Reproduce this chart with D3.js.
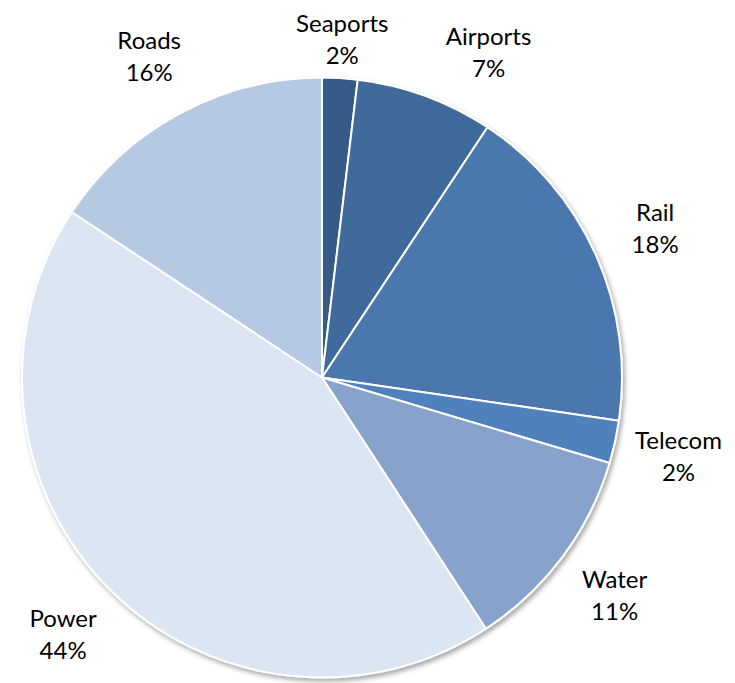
<!DOCTYPE html>
<html>
<head>
<meta charset="utf-8">
<script src="https://cdn.jsdelivr.net/npm/d3@7"></script>
<style>
  body { margin: 0; background: #fff; }
  text { font-family: Lato, "Open Sans", sans-serif; fill: #000; }
</style>
</head>
<body>
<div id="pie-chart"></div>
<script>
// slice data, clockwise from 12 o'clock
var categories = ["Seaports", "Airports", "Rail", "Telecom", "Water", "Power", "Roads"];
var values = [1.9, 7.4, 18.0, 2.3, 11.2, 43.5, 15.7];
var pctLabels = ["2%", "7%", "18%", "2%", "11%", "44%", "16%"];
var colors = ["#345a87", "#3f6a9b", "#4a77ae", "#4f81bd", "#87a2cb", "#dce6f2", "#b5c9e2"];

var width = 735, height = 683;
var cx = 322, cy = 377.5, radius = 300;

var svg = d3.select("#pie-chart")
  .append("svg")
  .attr("width", width)
  .attr("height", height);

// soft shadow like the office chart
var defs = svg.append("defs");
var f = defs.append("filter").attr("id", "shadow")
  .attr("x", "-10%").attr("y", "-10%").attr("width", "120%").attr("height", "120%");
f.append("feGaussianBlur").attr("in", "SourceAlpha").attr("stdDeviation", 2.5);
f.append("feOffset").attr("dx", 2).attr("dy", 3).attr("result", "off");
f.append("feComponentTransfer").append("feFuncA").attr("type", "linear").attr("slope", 0.35);
var m = f.append("feMerge");
m.append("feMergeNode");
m.append("feMergeNode").attr("in", "SourceGraphic");

var g = svg.append("g")
  .attr("transform", "translate(" + cx + "," + cy + ")");

var data = categories.map(function (c, i) {
  return { name: c, value: values[i], pct: pctLabels[i], color: colors[i] };
});

var pie = d3.pie().sort(null).value(function (d) { return d.value; });
var arcs = pie(data);

var arc = d3.arc().innerRadius(0).outerRadius(radius);

var slices = g.append("g").attr("filter", "url(#shadow)");
slices.selectAll("path")
  .data(arcs)
  .enter().append("path")
  .attr("d", arc)
  .attr("fill", function (d) { return d.data.color; })
  .attr("stroke", "#fff")
  .attr("stroke-width", 2)
  .attr("stroke-linejoin", "round");

// labels outside the pie
var labelR = 365;
var minY = -cy + 39;

var labels = g.selectAll(".label")
  .data(arcs)
  .enter().append("g")
  .attr("class", "label");

labels.append("text")
  .attr("text-anchor", "middle")
  .attr("y", -7.5)
  .attr("font-size", 24)
  .text(function (d) { return d.data.name; });

labels.append("text")
  .attr("text-anchor", "middle")
  .attr("y", 24.5)
  .attr("font-size", 24)
  .text(function (d) { return d.data.pct; });

function labelPos(a) {
  var r = labelR;
  // keep top labels inside the page
  if (-r * Math.cos(a) < minY) r = -minY / Math.cos(a);
  return [r * Math.sin(a), -r * Math.cos(a)];
}

// place labels, nudging clockwise when too close to the previous one
var placed = [];
labels.each(function (d, i) {
  var w = d3.max(d3.select(this).selectAll("text").nodes(), function (n) { return n.getComputedTextLength(); });
  var a = (d.startAngle + d.endAngle) / 2;
  var p = labelPos(a);
  var prev = placed[i - 1];
  var gap = 55;
  while (prev && Math.abs(p[1] - prev.y) < 68 && Math.abs(p[0] - prev.x) < (w + prev.w) / 2 + gap) {
    a += Math.PI / 360;
    p = labelPos(a);
  }
  placed.push({ x: p[0], y: p[1], w: w });
  d3.select(this).attr("transform", "translate(" + p[0] + "," + p[1] + ")");
});
</script>
</body>
</html>
